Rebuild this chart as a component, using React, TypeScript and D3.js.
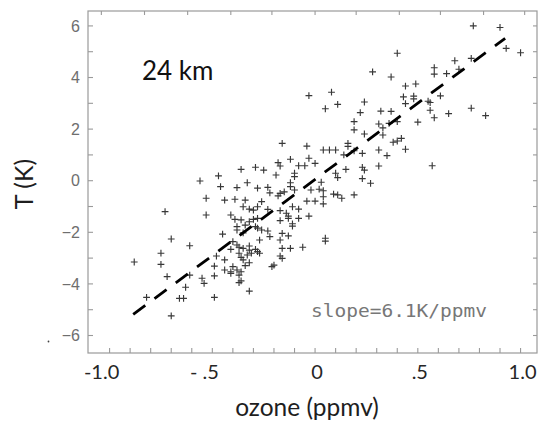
import React from "react";
import * as d3 from "d3";

// ---- data ----
const ozone: number[] = [
  0.40, 0.28, 0.37, -0.03, 0.08, 0.05, 0.11, 0.24, 0.22, 0.32, 0.37, 0.43, 0.44, 0.49, 0.48, 0.48,
  0.58, 0.58, 0.64, 0.68, 0.70, 0.76, 0.77, 0.90, 0.93, 1.00, 0.44, 0.55, 0.56, 0.61, 0.56, 0.58,
  0.65, 0.76, 0.83, 0.50, 0.57, 0.19, 0.31, 0.33, 0.36, 0.19, 0.38, 0.40, 0.42, 0.44, 0.40,
  -0.16, -0.04, 0.04, 0.07, 0.10, 0.16, 0.16, 0.24, 0.14, 0.19, 0.23, 0.31, 0.35,
  -0.12, -0.03, -0.18, -0.17, -0.08, -0.05, 0.00, -0.29, -0.25, -0.19, -0.10, -0.10, 0.10, 0.15,
  0.11, 0.23, 0.24, 0.31, 0.23, 0.27, -0.12, -0.12, -0.10, 0.03, 0.02, 0.04, -0.02, 0.09, 0.11,
  0.13, 0.19, -0.28, -0.23, -0.22, -0.17, -0.18, -0.15, -0.26, -0.28, -0.04, 0.00, 0.04, -0.11,
  -0.08, -0.17, -0.14, -0.13, -0.13, -0.03, -0.08, -0.17, -0.28, -0.29, -0.28, -0.26, -0.23,
  -0.16, -0.13, 0.05, 0.33, -0.36, -0.47, -0.56, -0.33, -0.46, -0.38, -0.53, -0.44, -0.39,
  -0.34, -0.35, -0.32, -0.30, -0.73, -0.53, -0.41, -0.39, -0.36, -0.32, -0.34, -0.38, -0.30,
  -0.45, -0.70, -0.23, -0.38, -0.35, -0.27, -0.22, -0.32, -0.32, -0.40, -0.37, -0.28, -0.17,
  -0.17, -0.61, -0.75, -0.88, -0.75, -0.72, -0.61, -0.48, -0.44, -0.49, -0.44, -0.41, -0.55,
  -0.54, -0.49, -0.63, -0.82, -0.66, -0.64, -0.49, -0.70, -0.38, -0.41, -0.35, -0.33, -0.31,
  -0.37, -0.36, -0.35, -0.40, -0.38, -0.41, -0.36, -0.37, -0.32, -0.34, -0.37, -0.36, -0.32,
  -0.29, -0.27, -0.16, -0.12, -0.06, 0.05, -0.16, -0.21, -0.20, -0.11, -0.11, 0.04,
];
const tempK: number[] = [
  4.94, 4.22, 4.02, 3.30, 3.43, 2.79, 2.96, 3.05, 2.64, 2.70, 2.69, 3.25, 3.67, 3.75, 3.28, 3.17,
  4.38, 4.13, 4.15, 4.65, 4.32, 4.74, 6.00, 5.94, 5.13, 4.96, 2.99, 3.08, 3.03, 3.29, 2.73, 2.44,
  2.60, 2.81, 2.52, 2.27, 0.58, 2.29, 2.20, 2.05, 2.22, 1.97, 1.49, 1.54, 1.64, 1.22, 2.29,
  1.45, 1.34, 1.19, 1.19, 1.19, 1.45, 1.33, 1.81, 1.00, 1.16, 1.06, 1.19, 0.97,
  0.83, 0.87, 0.70, 0.57, 0.58, 0.58, 0.67, 0.52, 0.41, 0.22, 0.29, 0.16, 0.29, 0.44,
  0.12, 0.52, 0.41, 0.57, 0.08, -0.10, -0.08, -0.23, -0.36, -0.06, -0.33, -0.39, -0.36, -0.52, -0.55,
  -0.68, -0.55, -0.29, -0.26, -0.47, -0.49, -0.59, -0.43, -0.81, -1.01, -0.79, -0.79, -0.90, -1.01,
  -1.10, -1.16, -1.26, -1.37, -1.46, -1.37, -1.46, -1.55, -1.46, -1.78, -1.84, -1.91, -1.95,
  -2.04, -2.14, -2.23, 1.77, 0.44, 0.19, -0.01, -0.08, -0.23, -0.27, -0.68, -0.75, -0.72,
  -0.75, -1.01, -1.10, -1.14, -1.20, -1.33, -1.33, -1.50, -1.52, -1.59, -1.72, -1.78, -1.50,
  -2.07, -2.26, -1.11, -1.91, -2.02, -2.30, -2.17, -2.53, -2.69, -2.36, -2.58, -2.75, -2.30,
  -2.92, -2.52, -2.81, -3.15, -3.24, -3.72, -3.66, -2.92, -3.07, -3.31, -3.46, -3.53, -3.78,
  -3.98, -3.69, -4.13, -4.52, -4.56, -4.56, -4.52, -5.24, -2.49, -2.66, -2.62, -2.88, -2.81,
  -2.81, -2.97, -3.07, -3.33, -3.46, -3.59, -3.53, -3.66, -3.18, -3.29, -3.95, -3.88, -4.28,
  -2.66, -2.81, -2.62, -2.62, -2.58, -2.34, -3.01, -3.33, -3.27, -1.67, -1.76, -0.62,
];

// regression line end points
const fitX: number[] = [-0.885, 0.925];
const fitY: number[] = [-5.18, 5.52];

const xTickValues: number[] = [-1.0, -0.5, 0, 0.5, 1.0];
const xTickLabels: string[] = ["-1.0", "- .5", "0", ".5", "1.0"];
const xMinorTicks: number[] = d3.range(-10, 11).map((i) => i / 10);
const topTicks: number[] = [-1.04, -0.83, -0.62, -0.41, -0.21, 0, 0.2, 0.41, 0.61, 0.82, 1.02];
const yTickValues: number[] = [-6, -4, -2, 0, 2, 4, 6];
const yMinorTicks: number[] = d3.range(-6, 7);

const W = 539;
const H = 422;
const left = 88, right = 537, top = 11, bottom = 353;

export default function App() {
  const x = d3.scaleLinear().domain([-1.105, 1.08]).range([left, right]);
  const y = d3.scaleLinear().domain([-6.678, 6.578]).range([bottom, top]);

  const fitLine = d3
    .line<number>()
    .x((_, i) => x(fitX[i]))
    .y((_, i) => y(fitY[i]))(fitX) as string;

  const axisColor = "#9a9a9a";
  const arm = 3.4;
  const crosses = ozone
    .map((o, i) => {
      const cx = x(o), cy = y(tempK[i]);
      return `M${cx - arm},${cy}h${2 * arm}M${cx},${cy - arm}v${2 * arm}`;
    })
    .join("");

  return (
    <svg
      width={W}
      height={H}
      style={{ position: "absolute", left: 0, top: 0, background: "#fff" }}
      xmlns="http://www.w3.org/2000/svg"
    >
      <rect x={0} y={0} width={W} height={H} fill="#fff" />
      {/* frame */}
      <rect x={left} y={top} width={right - left} height={bottom - top} fill="none" stroke={axisColor} strokeWidth={1.2} />
      {/* bottom ticks */}
      {xMinorTicks.map((v) => (
        <line key={"bx" + v} x1={x(v)} x2={x(v)} y1={bottom} y2={bottom - 5} stroke={axisColor} strokeWidth={1.1} />
      ))}
      {/* top ticks */}
      {topTicks.map((v) => (
        <line key={"tx" + v} x1={x(v)} x2={x(v)} y1={top} y2={top + 4} stroke={axisColor} strokeWidth={1.1} />
      ))}
      {/* left / right ticks */}
      {yMinorTicks.map((v) => (
        <g key={"yt" + v}>
          <line x1={left} x2={left + 5} y1={y(v)} y2={y(v)} stroke={axisColor} strokeWidth={1.1} />
          <line x1={right} x2={right - 4} y1={y(v)} y2={y(v)} stroke={axisColor} strokeWidth={1.1} />
        </g>
      ))}
      {/* y tick labels */}
      {yTickValues.map((v) => (
        <text
          key={"yl" + v}
          x={80}
          y={y(v)}
          dy="0.36em"
          textAnchor="end"
          fontFamily="'Liberation Sans', Arial, sans-serif"
          fontSize={16}
          fill="#6e6e6e"
        >
          {v < 0 ? "\u2212" + Math.abs(v) : String(v)}
        </text>
      ))}
      {/* x tick labels */}
      {xTickValues.map((v, i) => (
        <text
          key={"xl" + v}
          x={x(v)}
          dx={v < 0 ? -8 : 2}
          y={379}
          textAnchor="middle"
          fontFamily="Lato, 'Open Sans', sans-serif"
          fontSize={20}
          fill="#262626"
        >
          {xTickLabels[i]}
        </text>
      ))}
      {/* axis titles */}
      <text x={307} y={416} textAnchor="middle" fontFamily="Lato, 'Open Sans', sans-serif" fontSize={24.5} fill="#1e1e1e">
        ozone (ppmv)
      </text>
      <text
        transform="translate(33,184) rotate(-90)"
        textAnchor="middle"
        fontFamily="Lato, 'Open Sans', sans-serif"
        fontSize={25}
        fill="#1e1e1e"
      >
        T (K)
      </text>
      {/* annotations */}
      <text x={142} y={80} fontFamily="Lato, 'Open Sans', sans-serif" fontSize={26} fill="#111">
        24 km
      </text>
      <text
        x={311}
        y={317}
        fontFamily="'DejaVu Sans Mono', monospace"
        fontSize={18}
        fill="#777"
        textLength={176}
        lengthAdjust="spacingAndGlyphs"
      >
        slope=6.1K/ppmv
      </text>
      <circle cx={48.5} cy={341.5} r={0.9} fill="#444" />
      {/* points */}
      <path d={crosses} stroke="#222" strokeWidth={1.15} fill="none" opacity={0.9} />
      {/* fit line */}
      <path d={fitLine} stroke="#000" strokeWidth={2.8} fill="none" strokeDasharray="15,11.5" />
    </svg>
  );
}
